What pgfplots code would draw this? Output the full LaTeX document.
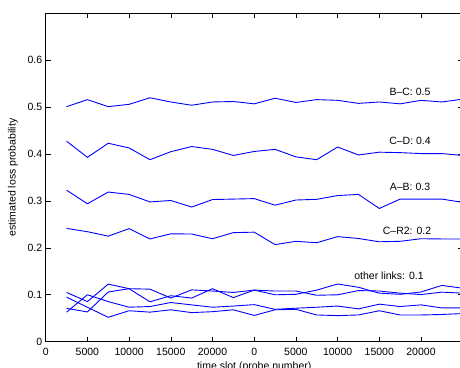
\documentclass[border=0pt]{standalone}
\usepackage{pgfplots}
\usepackage{pgfplotstable}
\pgfplotsset{compat=1.18}
\usepackage{fontspec}
\setmainfont{Liberation Sans}
\pgfplotstableread{
x bc cd ab cr oa ob oc od
2500 0.501 0.4275 0.323 0.2415 0.105 0.071 0.063 0.095
5000 0.516 0.393 0.294 0.2345 0.0855 0.0635 0.100 0.0735
7500 0.501 0.423 0.319 0.225 0.1227 0.106 0.0855 0.052
10000 0.506 0.413 0.314 0.241 0.113 0.113 0.0735 0.066
12500 0.520 0.388 0.298 0.219 0.085 0.112 0.075 0.063
15000 0.511 0.405 0.301 0.230 0.098 0.093 0.0835 0.068
17500 0.504 0.416 0.287 0.2295 0.093 0.1105 0.0785 0.062
20000 0.511 0.410 0.303 0.2195 0.113 0.108 0.0735 0.064
22500 0.512 0.397 0.304 0.2325 0.094 0.105 0.076 0.068
25000 0.507 0.4055 0.305 0.2335 0.110 0.110 0.079 0.056
27500 0.519 0.410 0.291 0.207 0.100 0.108 0.069 0.068
30000 0.510 0.394 0.302 0.214 0.101 0.108 0.0714 0.069
32500 0.516 0.388 0.3035 0.211 0.110 0.099 0.0735 0.057
35000 0.5145 0.415 0.3115 0.224 0.123 0.100 0.076 0.0556
37500 0.508 0.398 0.314 0.220 0.116 0.109 0.070 0.057
40000 0.511 0.404 0.284 0.213 0.1035 0.108 0.080 0.066
42500 0.507 0.403 0.304 0.214 0.101 0.1035 0.075 0.057
45000 0.5145 0.401 0.304 0.2195 0.106 0.1005 0.0785 0.057
47500 0.511 0.401 0.304 0.219 0.120 0.1056 0.072 0.058
50000 0.517 0.397 0.297 0.219 0.114 0.1035 0.072 0.060
}\data
\begin{document}
\begin{tikzpicture}
\begin{axis}[
  scale only axis, width=417pt, height=328.4pt,
  xmin=0, xmax=50000, ymin=0, ymax=0.7,
  scaled x ticks=false, scaled y ticks=false,
  xtick={0,5000,10000,15000,20000,25000,30000,35000,40000,45000,50000},
  xticklabels={0,5000,10000,15000,20000,0,5000,10000,15000,20000,0},
  ytick={0,0.1,0.2,0.3,0.4,0.5,0.6},
  yticklabels={0,0.1,0.2,0.3,0.4,0.5,0.6},
  tick align=inside, major tick length=5pt,
  tick style={black, line width=0.6pt},
  axis line style={line width=0.8pt},
  ticklabel style={font=\fontsize{10.5}{12}\selectfont},
  xticklabel style={yshift=-2.8pt},
  xlabel={time slot (probe number)},
  ylabel={estimated loss probability},
  ylabel style={yshift=3pt},
  label style={font=\fontsize{10.5}{12}\selectfont},
]
\coordinate (sw) at (rel axis cs:0,0);
\addplot[blue, line width=0.9pt, mark=none] table[x=x,y=bc] {\data};
\addplot[blue, line width=0.9pt, mark=none] table[x=x,y=cd] {\data};
\addplot[blue, line width=0.9pt, mark=none] table[x=x,y=ab] {\data};
\addplot[blue, line width=0.9pt, mark=none] table[x=x,y=cr] {\data};
\addplot[blue, line width=0.9pt, mark=none] table[x=x,y=oa] {\data};
\addplot[blue, line width=0.9pt, mark=none] table[x=x,y=ob] {\data};
\addplot[blue, line width=0.9pt, mark=none] table[x=x,y=oc] {\data};
\addplot[blue, line width=0.9pt, mark=none] table[x=x,y=od] {\data};
\node[font=\fontsize{10.5}{12}\selectfont] at (axis cs:43680,0.5335) {B--C: 0.5};
\node[font=\fontsize{10.5}{12}\selectfont] at (axis cs:43680,0.429) {C--D: 0.4};
\node[font=\fontsize{10.5}{12}\selectfont] at (axis cs:43680,0.3306) {A--B: 0.3};
\node[font=\fontsize{10.5}{12}\selectfont] at (axis cs:43320,0.2365) {C--R2: 0.2};
\node[font=\fontsize{10.5}{12}\selectfont] at (axis cs:41160,0.1404) {other links: 0.1};
\end{axis}
\pgfresetboundingbox
\path[use as bounding box] ([shift={(-45.7pt,-25.3pt)}]sw) rectangle ([shift={(414.3pt,341.7pt)}]sw);
\end{tikzpicture}
\end{document}
